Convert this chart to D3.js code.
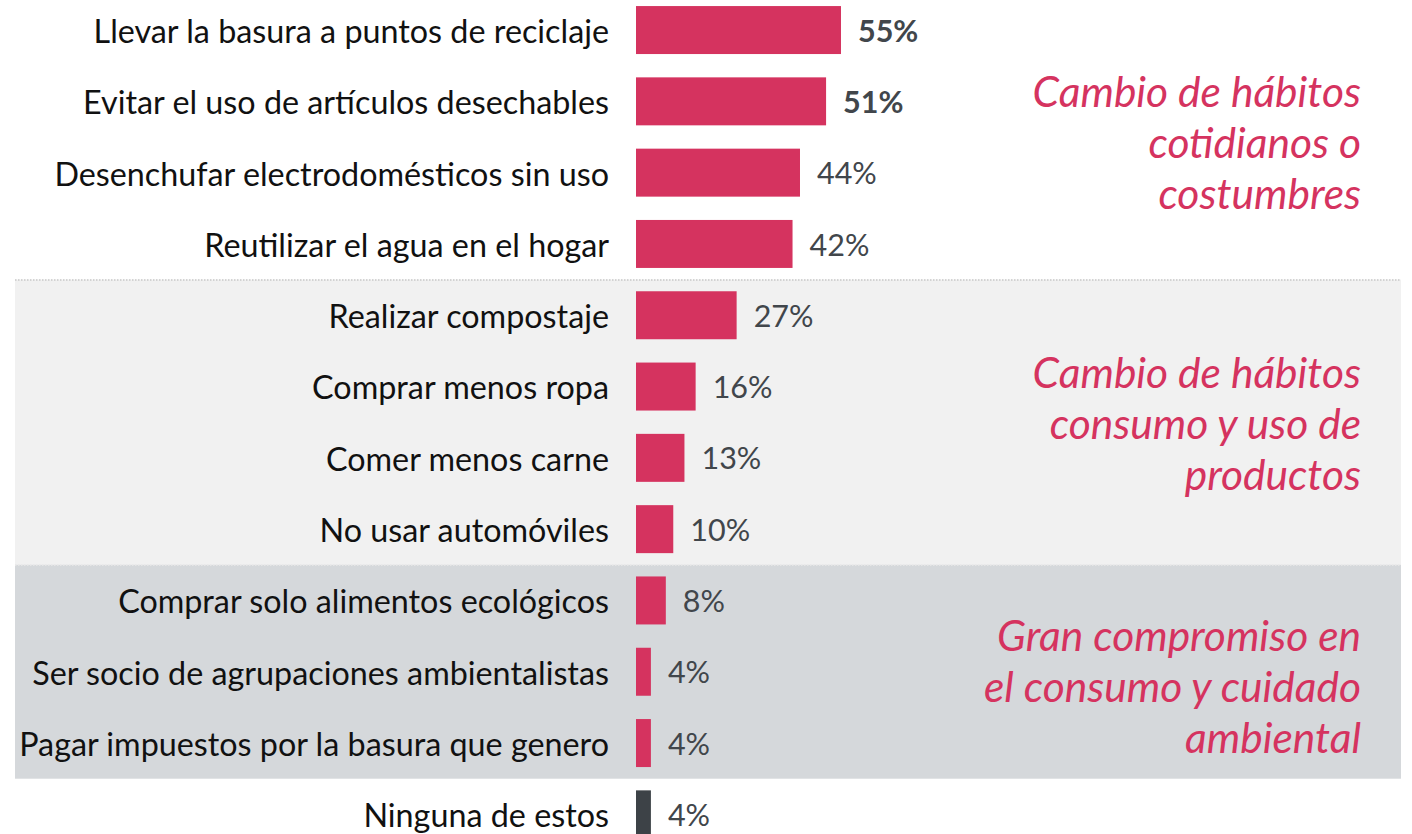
<!DOCTYPE html>
<html>
<head>
<meta charset="utf-8">
<script src="https://cdn.jsdelivr.net/npm/d3@7"></script>
<style>
  body { margin: 0; background: #fff; }
  svg { display: block; font-family: Lato, sans-serif; }
</style>
</head>
<body>
<div class="chart"></div>
<script>
// categories and values, top to bottom
const categories = [
  "Llevar la basura a puntos de reciclaje",
  "Evitar el uso de artículos desechables",
  "Desenchufar electrodomésticos sin uso",
  "Reutilizar el agua en el hogar",
  "Realizar compostaje",
  "Comprar menos ropa",
  "Comer menos carne",
  "No usar automóviles",
  "Comprar solo alimentos ecológicos",
  "Ser socio de agrupaciones ambientalistas",
  "Pagar impuestos por la basura que genero",
  "Ninguna de estos"
];
const values = [55, 51, 44, 42, 27, 16, 13, 10, 8, 4, 4, 4];
const boldLabels = [true, true, false, false, false, false, false, false, false, false, false, false];

// groups: first / last category index, fill, title lines
const groupStart = [0, 4, 8];
const groupEnd = [3, 7, 10];
const groupFill = ["#ffffff", "#f1f1f1", "#d5d8db"];
const groupTitles = [
  ["Cambio de hábitos", "cotidianos o", "costumbres"],
  ["Cambio de hábitos", "consumo y uso de", "productos"],
  ["Gran compromiso en", "el consumo y cuidado", "ambiental"]
];
// title block sits a little below the group's middle
const titleShift = [6, 1, 15];

const width = 1412, height = 834;
const pink = "#d5335f", dark = "#3d4247";

const svg = d3.select("div.chart")
  .append("svg")
  .attr("width", width)
  .attr("height", height);

// scales
const x = d3.scaleLinear().domain([0, 100]).range([636, 1008.7]);
const y = d3.scaleBand()
  .domain(categories)
  .range([-5.6, 850])
  .paddingInner(0.327)
  .paddingOuter(0.1635);

const step = y.step();
const rowTop = i => y(categories[i]) - step * y.paddingInner() / 2;
const rowBottom = i => y(categories[i]) + y.bandwidth() + step * y.paddingInner() / 2;

// group backgrounds
const bg = svg.append("g");
groupStart.forEach((s, g) => {
  if (g === 0) return;
  bg.append("rect")
    .attr("x", 15)
    .attr("y", rowTop(s))
    .attr("width", 1401 - 15)
    .attr("height", rowBottom(groupEnd[g]) - rowTop(s))
    .attr("fill", groupFill[g]);
  bg.append("line")
    .attr("x1", 15).attr("x2", 1401)
    .attr("y1", rowTop(s) + 0.5).attr("y2", rowTop(s) + 0.5)
    .attr("stroke", g === 1 ? "#c8c8c8" : "#e6e6e6")
    .attr("stroke-width", 1.5)
    .attr("stroke-dasharray", "1.5,1.5");
});

// bars
svg.append("g")
  .selectAll("rect")
  .data(values)
  .join("rect")
  .attr("x", x(0))
  .attr("y", (d, i) => y(categories[i]))
  .attr("width", d => x(d) - x(0))
  .attr("height", y.bandwidth())
  .attr("fill", (d, i) => i === values.length - 1 ? dark : pink);

// category labels
svg.append("g")
  .selectAll("text")
  .data(categories)
  .join("text")
  .attr("x", 609)
  .attr("y", d => y(d) + y.bandwidth() / 2)
  .attr("dy", "0.4em")
  .attr("text-anchor", "end")
  .attr("font-size", 32.3)
  .attr("fill", "#111")
  .text(d => d);

// value labels
svg.append("g")
  .selectAll("text")
  .data(values)
  .join("text")
  .attr("x", d => x(d) + 17)
  .attr("y", (d, i) => y(categories[i]) + y.bandwidth() / 2)
  .attr("dy", "0.38em")
  .attr("font-size", 30.5)
  .attr("font-weight", (d, i) => boldLabels[i] ? 700 : 400)
  .attr("fill", "#41464b")
  .text(d => d + "%");

// group titles
groupTitles.forEach((lines, g) => {
  const mid = (rowTop(groupStart[g]) + rowBottom(groupEnd[g])) / 2 + titleShift[g];
  const lh = 51;
  svg.append("text")
    .attr("text-anchor", "end")
    .attr("font-size", 42.5)
    .attr("font-style", "italic")
    .attr("fill", pink)
    .selectAll("tspan")
    .data(lines)
    .join("tspan")
    .attr("x", 1361)
    .attr("y", (d, i) => mid + (i - 1) * lh)
    .attr("dy", "0.36em")
    .text(d => d);
});
</script>
</body>
</html>
